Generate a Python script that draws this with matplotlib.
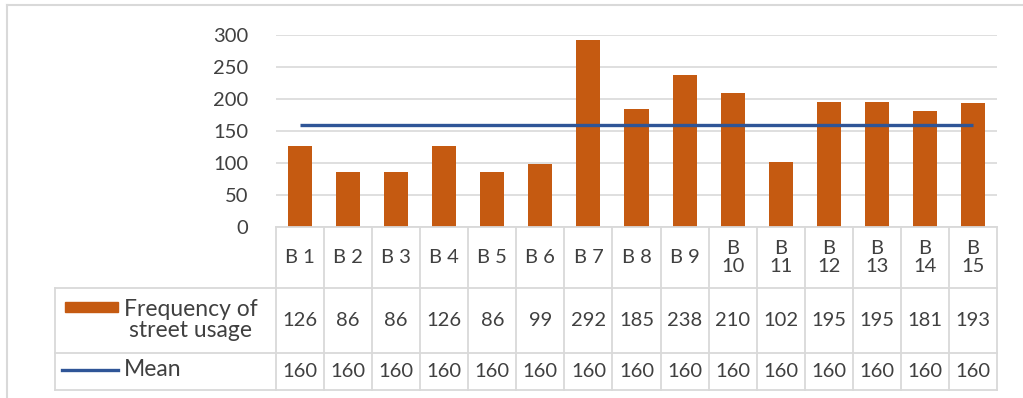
import matplotlib
matplotlib.use("Agg")
import matplotlib.pyplot as plt
from matplotlib.lines import Line2D
from matplotlib.patches import Rectangle
from matplotlib.transforms import blended_transform_factory
import numpy as np

plt.rcParams['font.family'] = ['Lato', 'DejaVu Sans']

# Street-usage counts per block and the overall mean
categories = ["B 1", "B 2", "B 3", "B 4", "B 5", "B 6", "B 7", "B 8", "B 9",
              "B\n10", "B\n11", "B\n12", "B\n13", "B\n14", "B\n15"]
frequency = [126, 86, 86, 126, 86, 99, 292, 185, 238, 210, 102, 195, 195, 181, 193]
mean = [160] * 15
series_names = ["Frequency of\nstreet usage", "Mean"]
y_ticks = [0, 50, 100, 150, 200, 250, 300]

BAR_COLOR = "#C55A11"
LINE_COLOR = "#2F5597"
GRID_COLOR = "#D9D9D9"
TEXT_COLOR = "#404040"
FS = 14.5

W, H = 1023, 398
fig = plt.figure(figsize=(W / 100, H / 100), dpi=100)

def fx(px):
    return px / W

def fy(py):
    return 1 - py / H

# plot area in pixels
left, right, top, bottom = 276, 997, 35, 227
ax = fig.add_axes([fx(left), fy(bottom), fx(right - left), (bottom - top) / H])

x = np.arange(len(categories))
ax.bar(x, frequency, width=0.5, color=BAR_COLOR, zorder=2)
ax.plot(x, mean, color=LINE_COLOR, linewidth=2.4, zorder=3, solid_capstyle="butt")

ax.set_xlim(-0.5, len(categories) - 0.5)
ax.set_ylim(0, 300)
ax.set_yticks(y_ticks)
ax.set_xticks([])
ax.tick_params(axis="y", length=0, pad=20, labelsize=FS, labelcolor=TEXT_COLOR)
ax.grid(axis="y", color=GRID_COLOR, linewidth=1.2, zorder=0)
for s in ax.spines.values():
    s.set_visible(False)

# data table under the plot
tr = blended_transform_factory(ax.transData, ax.transAxes)

def ay(py):
    return (bottom - py) / (bottom - top)

row_edges = [227, 288, 353, 390]
hdr_left = -0.5 - (left - 55) / ((right - left) / len(categories))
lc = dict(color=GRID_COLOR, linewidth=1.3, clip_on=False, transform=tr)

for i in range(len(categories) + 1):
    ax.add_line(Line2D([i - 0.5, i - 0.5], [ay(row_edges[0]), ay(row_edges[-1])], **lc))
ax.add_line(Line2D([hdr_left, hdr_left], [ay(row_edges[1]), ay(row_edges[-1])], **lc))
ax.add_line(Line2D([-0.5, len(categories) - 0.5], [ay(row_edges[0])] * 2, **lc))
for r in row_edges[1:]:
    ax.add_line(Line2D([hdr_left, len(categories) - 0.5], [ay(r)] * 2, **lc))

cat_y = ay((row_edges[0] + row_edges[1]) / 2)
val_y = ay((row_edges[1] + row_edges[2]) / 2)
mean_y = ay((row_edges[2] + row_edges[3]) / 2)
txt = dict(transform=tr, ha="center", va="center", fontsize=FS, color=TEXT_COLOR,
           clip_on=False, linespacing=1.1)
for i, cat in enumerate(categories):
    ax.text(i, cat_y, cat, **txt)
    ax.text(i, val_y, str(frequency[i]), **txt)
    ax.text(i, mean_y, str(mean[i]), **txt)

# legend keys in the row headers
fig.patches.append(Rectangle((fx(65), fy(312)), fx(118 - 65), (312 - 302) / H,
                             transform=fig.transFigure, color=BAR_COLOR))
fig.lines.append(Line2D([fx(62), fx(118)], [fy(370), fy(370)], transform=fig.transFigure,
                        color=LINE_COLOR, linewidth=2.4))
fig.text(fx(124), fy(320), series_names[0], ha="left", va="center", fontsize=16.5,
         color=TEXT_COLOR, linespacing=1.0, multialignment="center")
fig.text(fx(124), fy(370), series_names[1], ha="left", va="center", fontsize=16.5,
         color=TEXT_COLOR)

# chart frame
fig.lines.append(Line2D([fx(7), fx(7)], [fy(5), fy(397)], transform=fig.transFigure,
                        color=GRID_COLOR, linewidth=1.5))
fig.lines.append(Line2D([fx(7), 1], [fy(5), fy(5)], transform=fig.transFigure,
                        color=GRID_COLOR, linewidth=1.5))

fig.savefig("out.png", dpi=100)
